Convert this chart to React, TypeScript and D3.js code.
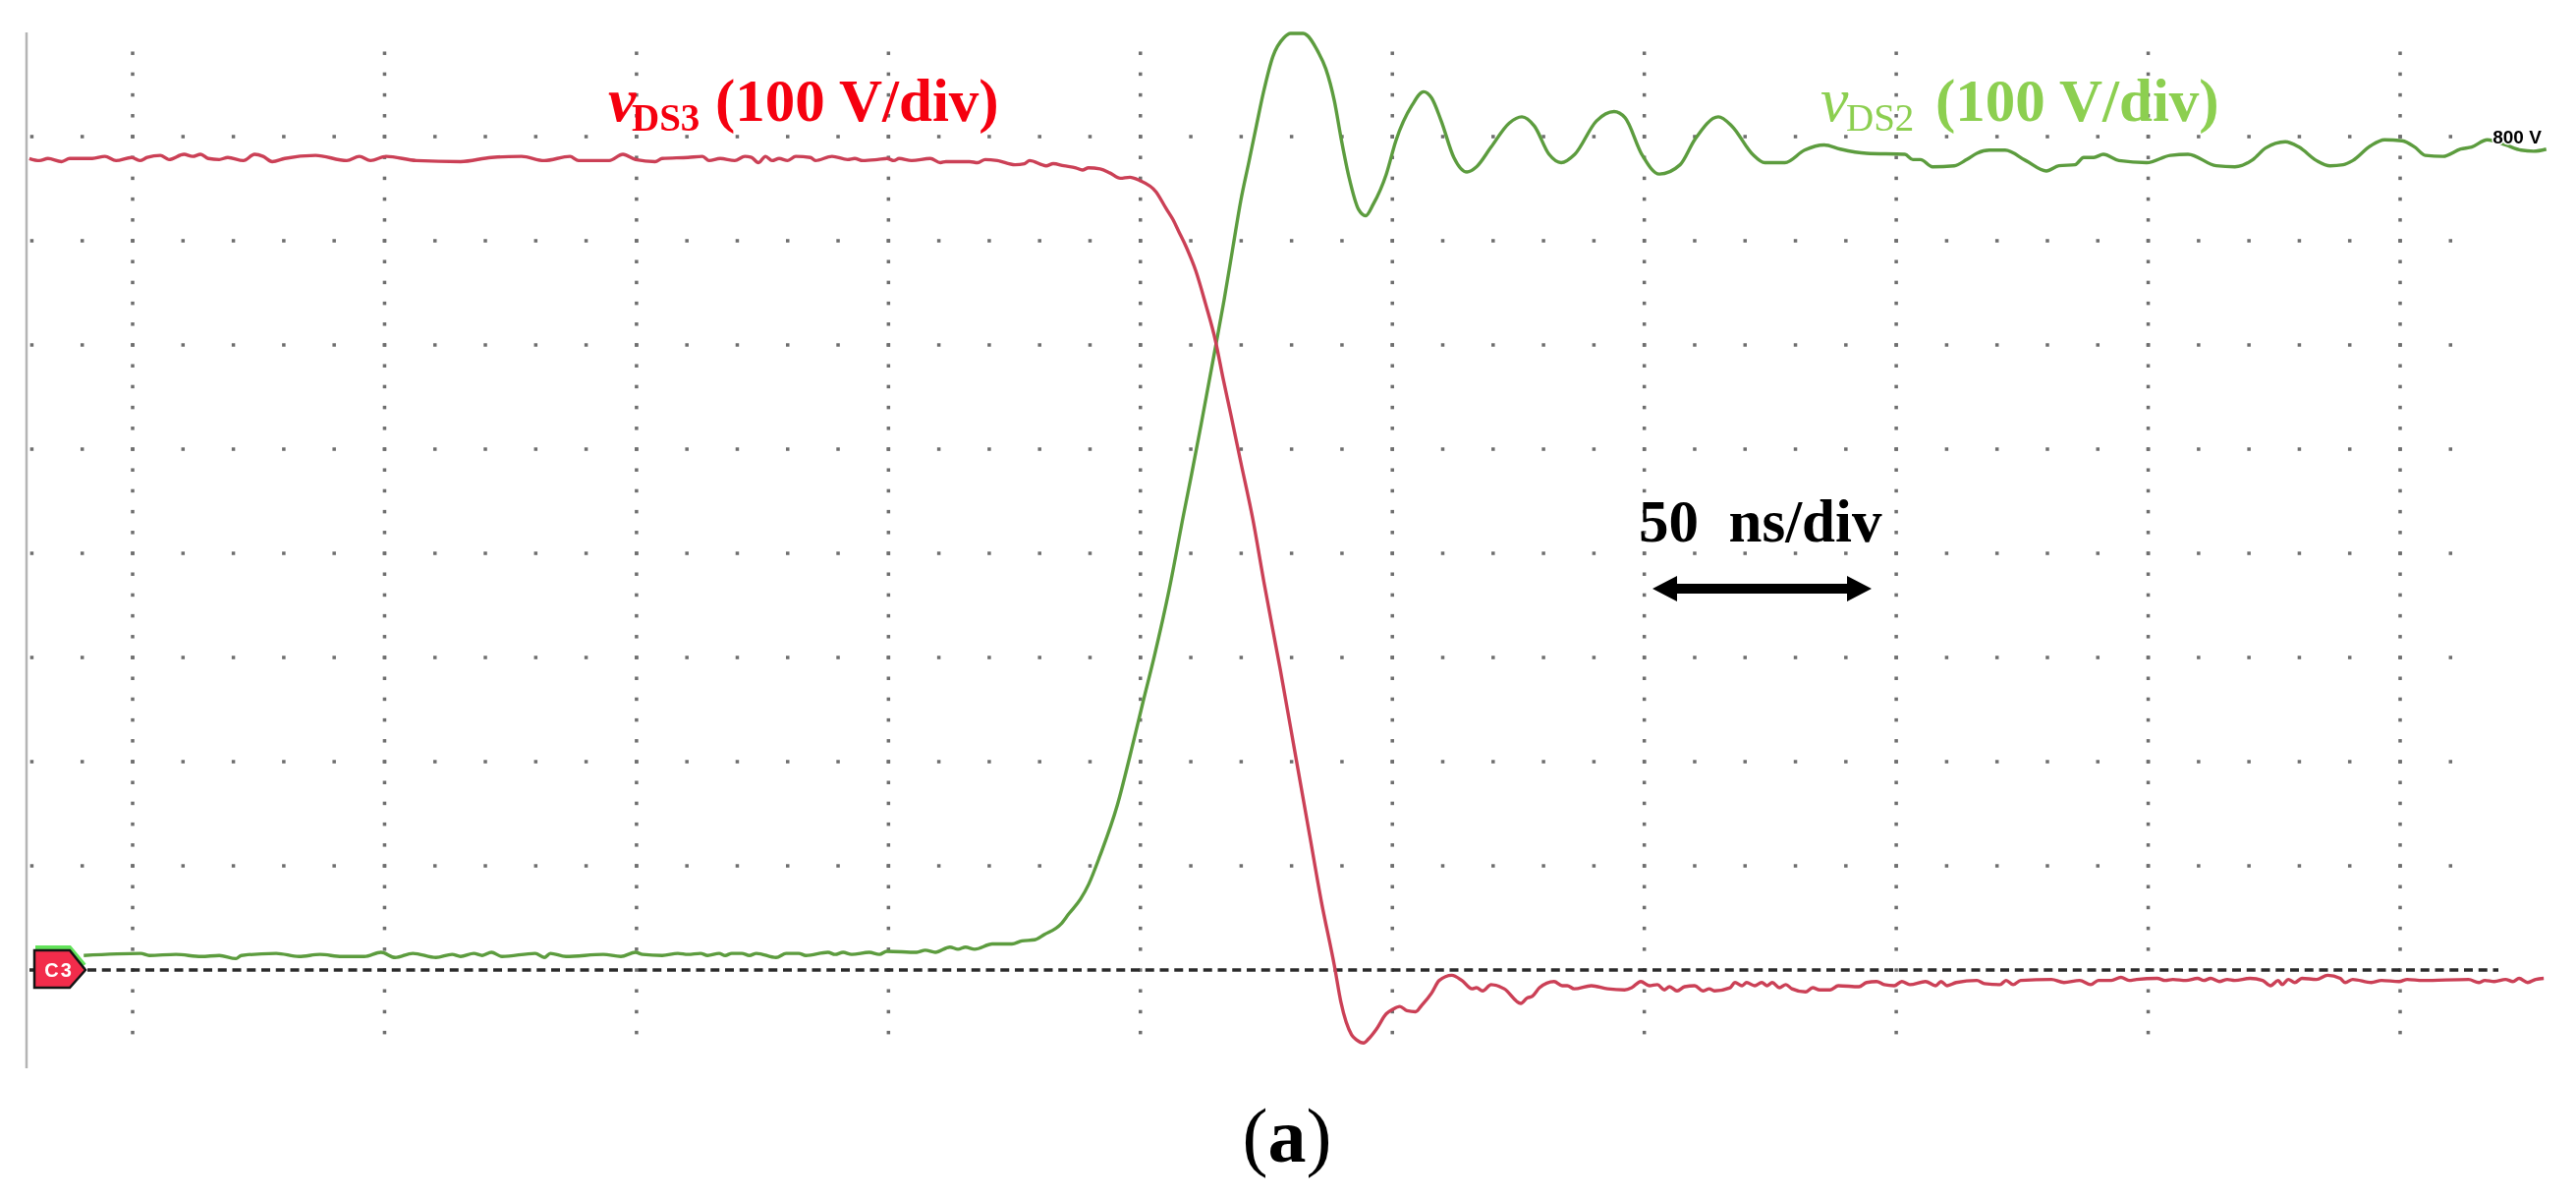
import { useEffect, useRef } from 'react';
import * as d3 from 'd3';

// time in ns from the first major grid column, volts above the C3 ground marker
const redTime = [-20.5,-18.5,-16.8,-14.1,-12.5,-8,-5.5,-3.3,-0.2,1.4,2.9,5.5,7.2,10.2,11.9,13.5,15,17.2,18.9,22,24.2,25.9,27.7,30.2,36.3,42.5,45,47.2,50.3,56.3,65.1,71.2,77.2,81.7,86.8,88.5,94.6,97.3,99.8,103.7,105.1,110.2,113.1,114.4,116.6,119.5,121.5,122.8,124.2,125.6,126.9,128.3,130,131.6,134.5,135.5,138.8,141.9,143.3,144.9,147.8,149.7,151.1,152.1,154.6,158.3,160.3,161.4,166.1,167.7,169.2,171.6,175.1,177,178,181.3,182.7,184.8,187.2,188.5,189.7,192,194,196,197.9,199.8,203.1,205.1,206.5,207.6,209,211,212.9,214.9,216.4,218,219.9,222.3,224.6,227.7,230.6,233.6,235.9,238.5,239.8,241.9,242.9,244.3,245.3,246.8,248.8,250,251.5,252.9,254.6,255.8,257.8,259.3,261.8,263.8,265.8,266.7,267.9,269.6,272.2,275.5,276.7,277.8,279.2,282.1,283.7,284.7,286.1,289.5,292.7,296.1,297.5,299.3,301,302.6,304,305,306.5,308,310,311.6,312.9,313.9,317,318,319.4,320.3,321.9,323.3,324.4,325.4,326.8,328.1,329.3,332,333.4,334.8,336.9,338.5,342.6,344.1,346.1,347.6,349.6,351.1,352.7,355.8,357.8,358.9,360.1,361.9,366,367.5,370.6,371.8,373.2,374.7,380.8,383.3,386.4,388.6,390.1,392.7,394.6,396.2,397.7,401.8,403.4,404.9,407.5,409.8,411,412.4,414.1,415.7,417.2,420.2,422.7,424.3,425.8,426.6,427.8,429.1,430.5,433.4,435.6,438.1,439.1,440.6,444.3,446.3,449.8,451.4,454.5,463.6,465.6,466.8,468.7,470.9,472.4,473.6,475.3,476.9,478.5];
const redVolts = [779,777,779,776,779,779,781,777,780,777,780,782,778,783,781,783,779,778,780,777,783,781,776,779,782,777,781,777,781,777,776,780,781,777,781,777,777,783,778,776,779,780,781,777,779,777,781,780,775,781,777,779,777,781,780,777,781,778,779,777,778,779,777,779,777,779,775,776,776,775,778,777,773,774,777,772,774,772,770,768,770,769,765,760,761,758,747,731,720,709,695,671,640,604,568,532,488,433,370,290,211,129,66,4,-31,-62,-67,-70,-66,-57,-42,-38,-35,-39,-40,-34,-22,-10,-5,-10,-18,-17,-20,-14,-18,-32,-27,-25,-17,-11,-15,-15,-18,-15,-18,-19,-17,-11,-15,-14,-19,-16,-20,-16,-15,-20,-18,-20,-17,-12,-15,-12,-15,-12,-15,-12,-17,-14,-18,-21,-17,-19,-19,-15,-16,-12,-11,-14,-15,-11,-14,-11,-15,-11,-15,-12,-10,-13,-14,-10,-14,-10,-9,-12,-10,-14,-10,-10,-7,-10,-9,-8,-10,-9,-10,-8,-10,-8,-11,-9,-10,-8,-10,-15,-10,-14,-9,-12,-8,-9,-5,-8,-12,-9,-12,-10,-11,-9,-10,-9,-12,-10,-11,-9,-11,-8,-12,-9,-8];

const greenTime = [-9.7,1.6,3.3,8.6,13.6,17.2,20.5,21.6,28.5,33,37.2,41.5,46,49.3,52.1,55.6,60.2,63.4,65.1,67.7,69.4,71.2,73.3,79.9,81.7,82.9,86,93.4,96.9,99.8,101.2,105.1,108.2,110.2,112.7,114.1,116.4,117.6,118.9,120.9,122.4,123.8,127.7,129.7,132.2,133.6,138,139.4,141,142.7,146.2,148.2,149.7,155.6,157.3,159.3,162.2,163.8,165.3,167.1,170.6,174.5,176.5,179,180.9,184.2,185.8,188.1,189.7,192,195.4,197.9,200.4,202.8,205.7,208.6,210.2,212.1,214.9,216.6,218.4,219.9,221.5,223,224.4,226.3,228.5,229.8,232.3,235.3,236.8,238.5,239.8,241.4,243.3,244.7,246.2,248.8,250.7,253.9,256.2,257.8,259.7,262.2,264.8,266.7,269.6,273.2,275.7,278.2,281.1,283.5,286.2,290.5,294,296.2,299.5,303,307.1,310,314.7,317.4,321.5,323.9,327.9,331.8,335.7,338.9,344.1,351.7,353.3,354.8,357.2,361.5,364,366,368.5,371.6,375.7,379.8,382.3,385.5,387.2,389.2,391.1,394.2,399.7,404.4,407.9,413.5,417.2,420.8,423.3,427.2,429.9,433.4,436.1,438.7,440.6,444.1,446.9,450.4,452.9,455,458.5,462,464.2,467.3,470.9,474,476.5,479];
const greenVolts = [14,16,14,15,13,14,11,14,16,13,15,13,13,17,12,16,12,15,13,16,14,17,13,16,12,16,13,15,13,17,15,14,16,15,16,14,16,14,16,16,14,16,12,16,16,14,17,15,17,15,17,15,18,17,19,17,22,20,22,20,25,25,28,29,34,44,54,68,82,110,158,205,255,302,365,438,477,525,598,643,695,738,775,810,842,877,895,899,899,881,865,834,799,761,730,724,735,764,796,830,843,837,815,780,766,771,790,813,819,810,783,775,783,815,824,818,783,764,773,797,819,810,783,775,775,787,792,788,784,783,778,778,771,772,778,784,787,787,777,767,772,773,780,780,783,777,775,782,783,772,771,778,789,795,790,777,772,773,777,791,797,796,790,782,781,788,790,797,792,787,786,788];

// scope grid: 50 ns/div, 100 V/div, five minor steps per division
const majorTime = [0, 50, 100, 150, 200, 250, 300, 350, 400, 450];
const majorVolts = [800, 700, 600, 500, 400, 300, 200, 100];
const minorTime = d3.range(-20, 461, 10);
const minorVolts = d3.range(880, -61, -20);

const serif = '"Liberation Serif", serif';
const sans = '"Liberation Sans", sans-serif';
const redText = '#f5000f';
const greenText = '#8ccf50';

export default function App() {
  const ref = useRef<SVGSVGElement>(null);

  useEffect(() => {
    if (!ref.current) return;
    const svg = d3.select(ref.current);
    svg.selectAll('*').remove();

    const x = d3.scaleLinear().domain([0, 450]).range([135, 2443]);
    const y = d3.scaleLinear().domain([-94.3, 900]).range([1087, 33]);
    const g = svg.append('g').style('filter', 'blur(0.7px)');

    // left border
    g.append('line').attr('x1', 27).attr('x2', 27).attr('y1', y(900)).attr('y2', y(-94.3))
      .attr('stroke', '#b4b4b4').attr('stroke-width', 2.5);

    // dotted grid
    const dots: [number, number][] = [];
    majorVolts.forEach((v) => minorTime.forEach((t) => dots.push([t, v])));
    majorTime.forEach((t) => minorVolts.forEach((v) => dots.push([t, v])));
    g.append('g').selectAll('rect').data(dots).enter().append('rect')
      .attr('x', (d) => x(d[0]) - 1.75).attr('y', (d) => y(d[1]) - 1.75)
      .attr('width', 3.5).attr('height', 3.5).attr('fill', '#6e6e6e');

    // ground reference
    g.append('line').attr('x1', 30).attr('x2', 2543).attr('y1', y(0)).attr('y2', y(0))
      .attr('stroke', '#2b2b2b').attr('stroke-width', 3.5).attr('stroke-dasharray', '9 5.75');

    const line = (ts: number[], vs: number[]) =>
      d3.line<number>().x((t) => x(t)).y((_, i) => y(vs[i])).curve(d3.curveMonotoneX)(ts);

    g.append('path').attr('d', line(greenTime, greenVolts)).attr('fill', 'none')
      .attr('stroke', '#5c9c3e').attr('stroke-width', 3.4).attr('stroke-linejoin', 'round');
    g.append('path').attr('d', line(redTime, redVolts)).attr('fill', 'none')
      .attr('stroke', '#cb4056').attr('stroke-width', 3.4).attr('stroke-linejoin', 'round');

    // C3 ground marker
    const y0 = y(0);
    g.append('path').attr('d', `M36,${y0 - 23}H71L86,${y0 - 5}`).attr('fill', 'none')
      .attr('stroke', '#62e25a').attr('stroke-width', 4);
    g.append('path').attr('d', `M35,${y0 - 20}H71L87,${y0}L71,${y0 + 18}H35Z`)
      .attr('fill', '#f22c4b').attr('stroke', '#141414').attr('stroke-width', 2.5);
    g.append('text').attr('x', 60).attr('y', y0 + 7).attr('text-anchor', 'middle')
      .attr('font-family', sans).attr('font-weight', 700).attr('font-size', 20)
      .attr('letter-spacing', 2).attr('fill', '#fff').text('C3');

    // channel labels
    const label = (left: number, vFill: string, vWeight: number, subLeft: number, sub: string, subWeight: number, restLeft: number) => {
      const base = y(0) - 864;
      g.append('text').attr('x', left).attr('y', base).attr('font-family', serif).attr('font-style', 'italic')
        .attr('font-weight', vWeight).attr('font-size', 64).attr('fill', vFill).text('v');
      g.append('text').attr('x', subLeft).attr('y', base + 10).attr('font-family', serif)
        .attr('font-weight', subWeight).attr('font-size', 39).attr('fill', vFill).text(sub);
      g.append('text').attr('x', restLeft).attr('y', base).attr('font-family', serif)
        .attr('font-weight', 700).attr('font-size', 61).attr('fill', vFill).text('(100 V/div)');
    };
    label(619, redText, 700, 643, 'DS3', 700, 728);
    label(1853, greenText, 400, 1879, 'DS2', 400, 1970);

    // 800 V readout
    g.append('text').attr('x', 2562).attr('y', 146).attr('text-anchor', 'middle')
      .attr('font-family', sans).attr('font-weight', 700).attr('font-size', 19)
      .attr('fill', '#000').attr('stroke', '#fff').attr('stroke-width', 3).attr('paint-order', 'stroke').text('800 V');

    // time base annotation
    g.append('text').attr('x', 1668).attr('y', 551).attr('xml:space', 'preserve').style('white-space', 'pre')
      .attr('font-family', serif).attr('font-weight', 700).attr('font-size', 61).attr('fill', '#000').text('50  ns/div');
    const ay = 599;
    const ax0 = 1682;
    const ax1 = 1905;
    g.append('path')
      .attr('d', `M${ax0},${ay}L${ax0 + 25},${ay - 13}V${ay - 5}H${ax1 - 25}V${ay - 13}L${ax1},${ay}L${ax1 - 25},${ay + 13}V${ay + 5}H${ax0 + 25}V${ay + 13}Z`)
      .attr('fill', '#000');

    // panel tag
    const tag = g.append('text').attr('x', 1310).attr('y', 1182).attr('text-anchor', 'middle')
      .attr('font-family', serif).attr('font-size', 78).attr('fill', '#000');
    tag.append('tspan').text('(');
    tag.append('tspan').attr('font-weight', 700).text('a');
    tag.append('tspan').text(')');
  }, []);

  return <svg ref={ref} width={2622} height={1219} style={{ position: 'absolute', left: 0, top: 0, background: '#fff' }} />;
}
